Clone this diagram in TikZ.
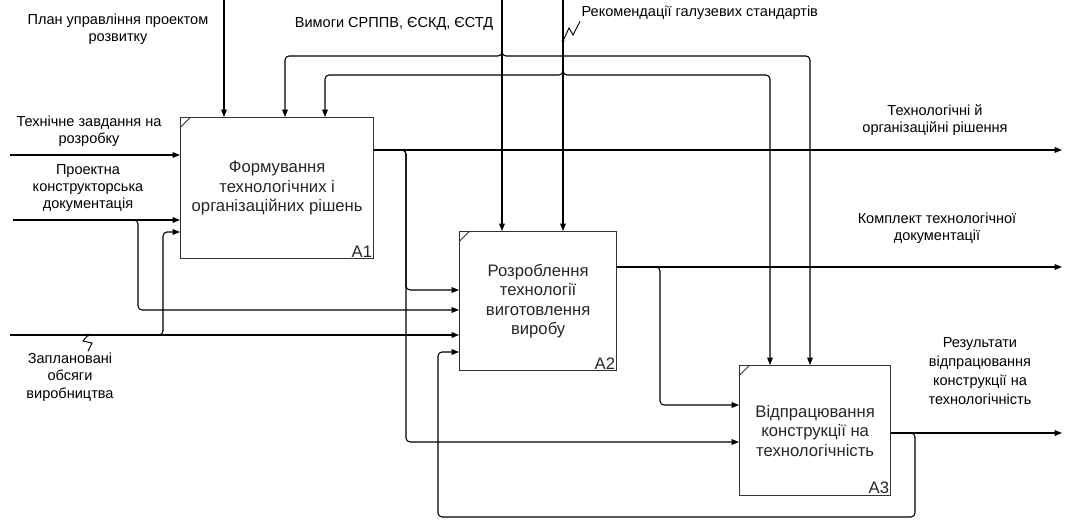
\documentclass[tikz,border=0pt]{standalone}
\usepackage{fontspec}
\setmainfont{Liberation Sans}
\usetikzlibrary{positioning,arrows.meta}

\begin{document}
\begin{tikzpicture}[x=0.75pt, y=-0.75pt]
\tikzset{
    box/.style={rectangle, draw=black!80, line width=1pt, anchor=north west, align=center, font=\fontsize{12.5}{14.6}\selectfont, text=black!85},
    num/.style={anchor=south east, inner sep=1.5pt, font=\fontsize{12.5}{14.6}\selectfont, text=black!85},
    lbl/.style={align=center, inner sep=1pt, font=\fontsize{10.9}{13}\selectfont},
    arrow/.style={-{Triangle[length=5.5pt, width=4.2pt]}, line width=0.8pt},
    squig/.style={line width=0.7pt}
}
\useasboundingbox (0,0) rectangle (1065,520);

% activity boxes
\node[box, minimum width=144.75pt, minimum height=105.75pt] (A1) at (180,117) {Формування\\технологічних і\\організаційних рішень};
\node[box, minimum width=117.75pt, minimum height=104.25pt] (A2) at (459,231) {Розроблення\\технології\\виготовлення\\виробу};
\node[box, minimum width=113.25pt, minimum height=97.5pt] (A3) at (739,365) {Відпрацювання\\конструкції на\\технологічність};
\node[num] (n1) at (A1.south east) {A1};
\node[num] (n2) at (A2.south east) {A2};
\node[num] (n3) at (A3.south east) {A3};
\foreach \b in {A1,A2,A3}
    \draw[line width=0.7pt, black!80] ([yshift=-8pt]\b.north west) -- ([xshift=8pt]\b.north west);

% labels
\node[lbl] (plan) at (118,29) {План управління проектом\\розвитку};
\node[lbl] (vym) at (394,24) {Вимоги СРППВ, ЄСКД, ЄСТД};
\node[lbl, anchor=west] (rek) at (580,13) {Рекомендації галузевих стандартів};
\node[lbl] (tz) at (89,131) {Технічне завдання на\\розробку};
\node[lbl] (pkd) at (88,188) {Проектна\\конструкторська\\документація};
\node[lbl] (ovi) at (70,377) {Заплановані\\обсяги\\виробництва};
\node[lbl] (rtor) at (935,120) {Технологічні й\\організаційні рішення};
\node[lbl] (ktd) at (937,228) {Комплект технологічної\\документації};
\node[lbl, font=\fontsize{10.9}{14.2}\selectfont] (rvk) at (980,371) {Результати\\відпрацювання\\конструкції на\\технологічність};

% end points and bends
\coordinate (planTop) at (224,0);
\coordinate (vymTop) at (502,0);
\coordinate (rekTop) at (563,0);
\coordinate (busU1) at (285,56);
\coordinate (busU2) at (810,56);
\coordinate (busL1) at (325,75);
\coordinate (busL2) at (770,75);
\coordinate (tzIn) at (10,155);
\coordinate (pkdIn) at (13,220);
\coordinate (oviIn) at (10,335);
\coordinate (pkdBr) at (138,310);
\coordinate (oviBr) at (163,232);
\coordinate (out1) at (1062,150);
\coordinate (out2) at (1062,267);
\coordinate (out3) at (1062,433);
\coordinate (a1Br1) at (406,290);
\coordinate (a1Br2) at (406,442);
\coordinate (a2Br) at (660,405);
\coordinate (fbR) at (915,517);
\coordinate (fbL) at (438,352);
\coordinate (rekJn) at (563,41);
\coordinate (oviJn) at (88,335);

% controls
\draw[arrow] (planTop) -- (planTop |- A1.north);
\draw[arrow] (vymTop) -- (vymTop |- A2.north);
\draw[arrow] (rekTop) -- (rekTop |- A2.north);
\draw[arrow, rounded corners=3pt] (vymTop) |- (busU1) -- (busU1 |- A1.north);
\draw[arrow, rounded corners=3pt] (vymTop) |- (busU2) -- (busU2 |- A3.north);
\draw[arrow, rounded corners=3pt] (rekTop) |- (busL1) -- (busL1 |- A1.north);
\draw[arrow, rounded corners=3pt] (rekTop) |- (busL2) -- (busL2 |- A3.north);

% inputs
\draw[arrow] (tzIn) -- (tzIn -| A1.west);
\draw[arrow] (pkdIn) -- (pkdIn -| A1.west);
\draw[arrow, rounded corners=3pt] (pkdIn) -| (pkdBr) -- (pkdBr -| A2.west);
\draw[arrow] (oviIn) -- (oviIn -| A2.west);
\draw[arrow, rounded corners=3pt] (oviIn) -| (oviBr) -- (oviBr -| A1.west);

% outputs
\draw[arrow] (A1.east |- out1) -- (out1);
\draw[arrow, rounded corners=3pt] (A1.east |- out1) -| (a1Br1) -- (a1Br1 -| A2.west);
\draw[arrow, rounded corners=3pt] (A1.east |- out1) -| (a1Br2) -- (a1Br2 -| A3.west);
\draw[arrow] (A2.east |- out2) -- (out2);
\draw[arrow, rounded corners=3pt] (A2.east |- out2) -| (a2Br) -- (a2Br -| A3.west);
\draw[arrow] (A3.east |- out3) -- (out3);
\draw[arrow, rounded corners=3pt] (A3.east |- out3) -| (fbR) -| (fbL) -- (fbL -| A2.west);

% squiggles
\draw[squig] (rekJn) -- ++(6,-13) -- ++(4,7) -- (rek.south west);
\fill (rekJn) circle[radius=1.3pt];
\draw[squig] (oviJn) -- ++(-5,6) -- ++(9,2) -- (ovi.north -| oviJn);
\fill (oviJn) circle[radius=1.3pt];
\end{tikzpicture}
\end{document}
